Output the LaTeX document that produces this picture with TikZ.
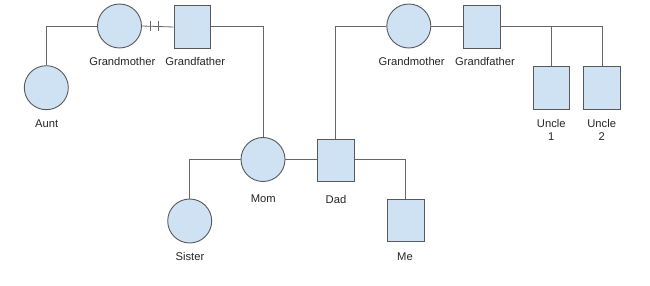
\documentclass[tikz,border=0pt]{standalone}
\usepackage{fontspec}
\setmainfont{Liberation Sans}
\definecolor{fillb}{HTML}{CFE2F3}
\definecolor{edge}{HTML}{595959}
\definecolor{wire}{HTML}{666666}
\begin{document}
\begin{tikzpicture}[x=1pt,y=-1pt,
  female/.style={circle,draw=edge,fill=fillb,line width=0.9pt,minimum size=44pt,inner sep=0pt},
  male/.style={rectangle,draw=edge,fill=fillb,line width=0.9pt,minimum width=36.5pt,minimum height=42.5pt,inner sep=0pt},
  lbl/.style={font=\fontsize{11.2}{12.5}\selectfont,text=black!85,align=center,inner sep=0pt},
  wirel/.style={draw=wire,line width=0.8pt}]
\useasboundingbox[fill=white] (0,0) rectangle (650,286);
% nodes
\node[female] (aunt) at (46.3,87.7) {};
\node[female] (gm1) at (119.5,26) {};
\node[male] (gf1) at (192.3,27) {};
\node[female] (gm2) at (408.8,26) {};
\node[male] (gf2) at (481.7,27) {};
\node[male] (u1) at (551.3,87.8) {};
\node[male] (u2) at (602,87.8) {};
\node[female] (mom) at (263,159.5) {};
\node[male] (dad) at (335.8,160.3) {};
\node[female] (sis) at (189.7,221) {};
\node[male] (me) at (405.7,220.5) {};
% labels
\node[lbl] (l1) at (122.3,61.7) {Grandmother};
\node[lbl] (l2) at (195.3,61.7) {Grandfather};
\node[lbl] (l3) at (46.7,124) {Aunt};
\node[lbl] (l4) at (411.7,61.7) {Grandmother};
\node[lbl] (l5) at (485,61.7) {Grandfather};
\node[lbl] (l6) at (551.3,130) {Uncle\\1};
\node[lbl] (l7) at (601.7,130) {Uncle\\2};
\node[lbl] (l8) at (263.3,199) {Mom};
\node[lbl] (l9) at (336,199) {Dad};
\node[lbl] (l10) at (190,256.7) {Sister};
\node[lbl] (l11) at (405,256.7) {Me};
% connectors
\coordinate (t1) at (150.7,26);
\coordinate (t2) at (158.7,26);
\draw[wirel] (gm1.west) -| (aunt.north);
\draw[wirel] (gm1.east) -- (gf1.west);
\draw[wirel] ([yshift=-5pt]t1) -- ([yshift=5pt]t1);
\draw[wirel] ([yshift=-5pt]t2) -- ([yshift=5pt]t2);
\draw[wirel] (gf1.east |- gm1.east) -| (mom.north);
\draw[wirel] (gm2.west) -| (dad.north);
\draw[wirel] (gm2.east) -- (gf2.west |- gm2.east);
\draw[wirel] (gf2.east |- gm2.east) -| (u2.north);
\draw[wirel] (u1.north |- gm2.east) -- (u1.north);
\draw[wirel] (mom.east) -- (dad.west |- mom.east);
\draw[wirel] (mom.west) -| (sis.north);
\draw[wirel] (dad.east |- mom.east) -| (me.north);
\end{tikzpicture}
\end{document}
